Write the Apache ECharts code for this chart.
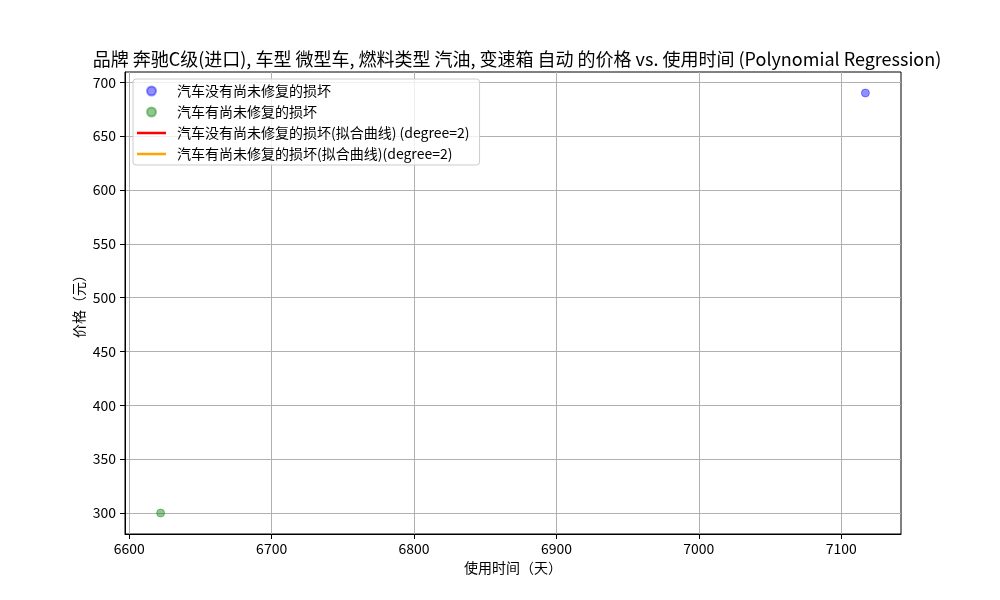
<!DOCTYPE html>
<html>
<head>
<meta charset="utf-8">
<script src="https://cdn.jsdelivr.net/npm/echarts@6/dist/echarts.min.js"></script>
<style>html,body{margin:0;padding:0;background:#fff}#c{width:1000px;height:600px}</style>
</head>
<body>
<div id="c"></div>
<script>
var titleText = '品牌 奔驰C级(进口), 车型 微型车, 燃料类型 汽油, 变速箱 自动 的价格 vs. 使用时间 (Polynomial Regression)';
var seriesNames = ['汽车没有尚未修复的损坏', '汽车有尚未修复的损坏', '汽车没有尚未修复的损坏(拟合曲线) (degree=2)', '汽车有尚未修复的损坏(拟合曲线)(degree=2)'];
var noDamageDays = [7117];
var noDamagePrice = [690];
var damageDays = [6622];
var damagePrice = [300];
var fitNoDamageDays = [7117];
var fitNoDamagePrice = [690];
var fitDamageDays = [6622];
var fitDamagePrice = [300];
var xTicks = [6600, 6700, 6800, 6900, 7000, 7100];
var yTicks = [300, 350, 400, 450, 500, 550, 600, 650, 700];
var xRange = [6597, 7142];
var yRange = [280.5, 709.5];

function pairs(xs, ys) { return xs.map(function (x, i) { return [x, ys[i]]; }); }
var F = '"Noto Sans CJK SC", sans-serif';
var lineIcon = 'path://M0,0L0.01,0ZM0,3.3H29V5.7H0ZM29,9L28.99,9Z';
var chart = echarts.init(document.getElementById('c'), null, {renderer: 'canvas'});
chart.setOption({
  animation: false,
  backgroundColor: '#fff',
  textStyle: {fontFamily: F},
  title: {
    text: titleText, left: 512, top: 45, textAlign: 'center',
    textStyle: {fontFamily: F, fontSize: 18, fontWeight: 'normal', color: '#000'}
  },
  grid: {left: 125, right: 99, top: 72, bottom: 66, show: true, borderColor: '#000', borderWidth: 1, backgroundColor: 'transparent'},
  legend: {
    orient: 'vertical', left: 133, top: 79,
    padding: [5, 10, 4, 4], itemGap: 7, itemWidth: 29, itemHeight: 9,
    backgroundColor: 'rgba(255,255,255,0.8)', borderColor: '#cccccc', borderWidth: 1, borderRadius: 3,
    textStyle: {fontFamily: F, fontSize: 14, color: '#000', padding: [0, 0, 0, 6]},
    data: [
      {name: seriesNames[0], icon: 'circle'},
      {name: seriesNames[1], icon: 'circle'},
      {name: seriesNames[2], icon: lineIcon},
      {name: seriesNames[3], icon: lineIcon}
    ]
  },
  xAxis: {
    type: 'value', min: xRange[0], max: xRange[1],
    name: '使用时间（天）', nameLocation: 'middle', nameGap: 25,
    nameTextStyle: {fontFamily: F, fontSize: 14, color: '#000'},
    axisLine: {show: true, lineStyle: {color: '#000', width: 1}},
    axisTick: {show: true, inside: false, length: 5, lineStyle: {color: '#000'}, customValues: xTicks},
    axisLabel: {color: '#000', fontSize: 14, fontFamily: F, margin: 8, customValues: xTicks,
      formatter: function (v) { return String(v); }},
    splitLine: {show: true, lineStyle: {color: '#b0b0b0', width: 1}}
  },
  yAxis: {
    type: 'value', min: yRange[0], max: yRange[1],
    name: '价格（元）', nameLocation: 'middle', nameGap: 39, nameRotate: 90, nameMoveOverlap: false,
    nameTextStyle: {fontFamily: F, fontSize: 14, color: '#000'},
    axisLine: {show: true, lineStyle: {color: '#000', width: 1}},
    axisTick: {show: true, inside: false, length: 5, lineStyle: {color: '#000'}, customValues: yTicks},
    axisLabel: {color: '#000', fontSize: 14, fontFamily: F, margin: 9, customValues: yTicks,
      formatter: function (v) { return String(v); }},
    splitLine: {show: true, lineStyle: {color: '#b0b0b0', width: 1}}
  },
  series: [
    {name: seriesNames[0], type: 'scatter', symbol: 'circle', symbolSize: 8,
      itemStyle: {color: 'rgba(0,0,255,0.55)', borderColor: 'rgba(0,0,255,0.5)', borderWidth: 1},
      data: pairs(noDamageDays, noDamagePrice)},
    {name: seriesNames[1], type: 'scatter', symbol: 'circle', symbolSize: 8,
      itemStyle: {color: 'rgba(0,128,0,0.55)', borderColor: 'rgba(0,128,0,0.5)', borderWidth: 1},
      data: pairs(damageDays, damagePrice)},
    {name: seriesNames[2], type: 'line', symbol: 'none', showSymbol: false,
      lineStyle: {color: '#ff0000', width: 2}, itemStyle: {color: '#ff0000'},
      data: pairs(fitNoDamageDays, fitNoDamagePrice)},
    {name: seriesNames[3], type: 'line', symbol: 'none', showSymbol: false,
      lineStyle: {color: '#ffa500', width: 2}, itemStyle: {color: '#ffa500'},
      data: pairs(fitDamageDays, fitDamagePrice)}
  ]
});
</script>
</body>
</html>
